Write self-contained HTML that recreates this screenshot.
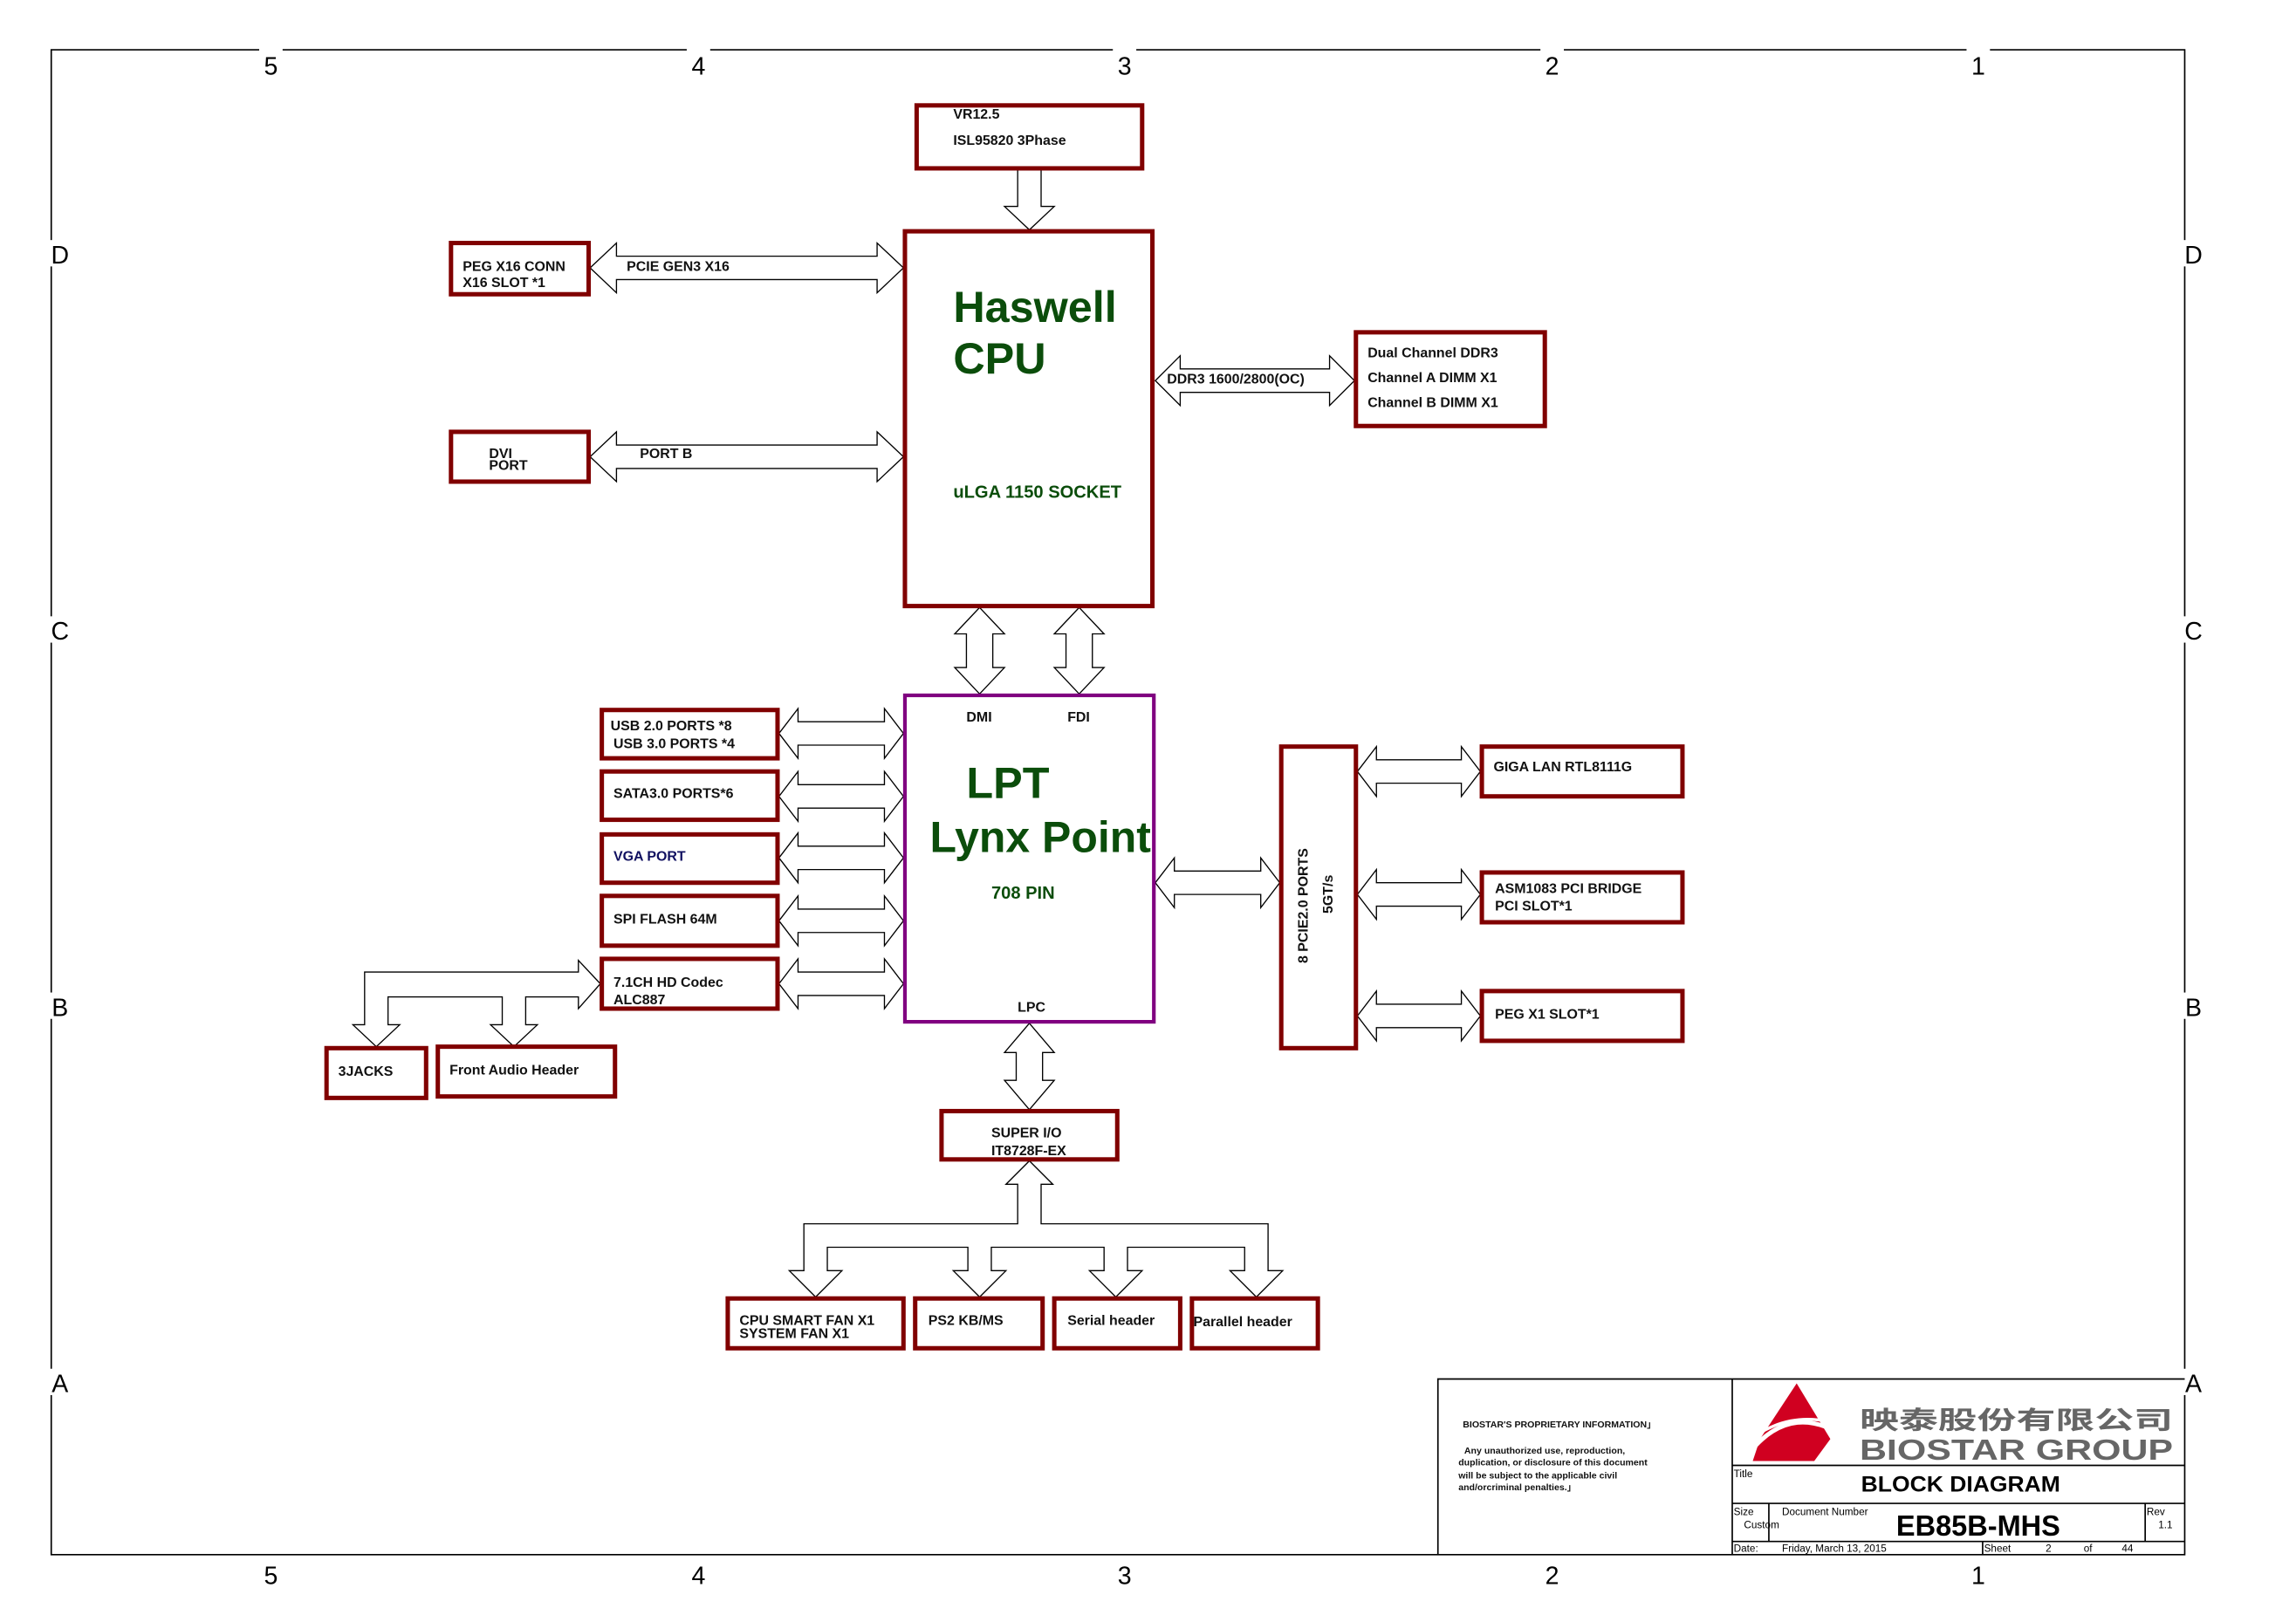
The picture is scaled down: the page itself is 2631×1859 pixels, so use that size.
<!DOCTYPE html>
<html><head><meta charset="utf-8"><style>
html,body{margin:0;padding:0;background:#fff;}
svg{display:block;}
text{font-family:"Liberation Sans","Noto Sans CJK SC",sans-serif;}
.b{fill:none;stroke:#800000;stroke-width:3;}
.a{fill:#fff;stroke:#000;stroke-width:0.8;}
.t{font-size:9.5px;font-weight:bold;fill:#111;}
.g{fill:#0b4d0b;font-weight:bold;}
.f{stroke:#000;stroke-width:1;fill:none;}
.z{font-size:17px;fill:#000;}
</style></head><body>
<svg width="2631" height="1859" viewBox="0 0 1568 1108" preserveAspectRatio="none" xmlns="http://www.w3.org/2000/svg">
<rect width="1568" height="1108" fill="#fff"/>
<!-- frame -->
<path class="f" d="M35 34H1492V1062H35Z"/>
<g class="z" text-anchor="middle">
<rect x="177" y="30" width="16" height="8" fill="#fff"/><text x="185" y="51">5</text>
<rect x="469" y="30" width="16" height="8" fill="#fff"/><text x="477" y="51">4</text>
<rect x="760" y="30" width="16" height="8" fill="#fff"/><text x="768" y="51">3</text>
<rect x="1052" y="30" width="16" height="8" fill="#fff"/><text x="1060" y="51">2</text>
<rect x="1343" y="30" width="16" height="8" fill="#fff"/><text x="1351" y="51">1</text>
<text x="185" y="1082">5</text><text x="477" y="1082">4</text><text x="768" y="1082">3</text><text x="1060" y="1082">2</text><text x="1351" y="1082">1</text>
<rect x="31" y="164" width="8" height="18" fill="#fff"/><text x="41" y="180">D</text>
<rect x="31" y="421" width="8" height="18" fill="#fff"/><text x="41" y="437">C</text>
<rect x="31" y="678" width="8" height="18" fill="#fff"/><text x="41" y="694">B</text>
<rect x="31" y="935" width="8" height="18" fill="#fff"/><text x="41" y="951">A</text>
<rect x="1488" y="164" width="8" height="18" fill="#fff"/><text x="1498" y="180">D</text>
<rect x="1488" y="421" width="8" height="18" fill="#fff"/><text x="1498" y="437">C</text>
<rect x="1488" y="678" width="8" height="18" fill="#fff"/><text x="1498" y="694">B</text>
<rect x="1488" y="935" width="8" height="18" fill="#fff"/><text x="1498" y="951">A</text>
</g>

<!-- arrows -->
<polygon class="a" points="695,116 711,116 711,141 720,141 703,157 686,141 695,141"/>
<polygon class="a" points="403,183 421,166 421,175 599,175 599,166 617,183 599,200 599,191 421,191 421,200"/>
<polygon class="a" points="403,312 421,295 421,304 599,304 599,295 617,312 599,329 599,320 421,320 421,329"/>
<polygon class="a" points="789,260 806,243 806,252 908,252 908,243 925,260 908,277 908,268 806,268 806,277"/>
<polygon class="a" points="669,415 686,433 678,433 678,456 686,456 669,474 652,456 660,456 660,433 652,433"/>
<polygon class="a" points="737,415 754,433 746,433 746,456 754,456 737,474 720,456 728,456 728,433 720,433"/>
<polygon class="a" points="703,699 720,719 712,719 712,738 720,738 703,758 686,738 694,738 694,719 686,719"/>
<polygon class="a" points="532,501 545,484 545,493 604,493 604,484 617,501 604,518 604,509 545,509 545,518"/>
<polygon class="a" points="532,544 545,527 545,536 604,536 604,527 617,544 604,561 604,552 545,552 545,561"/>
<polygon class="a" points="532,586 545,569 545,578 604,578 604,569 617,586 604,603 604,594 545,594 545,603"/>
<polygon class="a" points="532,629 545,612 545,621 604,621 604,612 617,629 604,646 604,637 545,637 545,646"/>
<polygon class="a" points="532,672 545,655 545,664 604,664 604,655 617,672 604,689 604,680 545,680 545,689"/>
<polygon class="a" points="789,603 802,586 802,595 861,595 861,586 874,603 861,620 861,611 802,611 802,620"/>
<polygon class="a" points="927,527 940,510 940,519 998,519 998,510 1011,527 998,544 998,535 940,535 940,544"/>
<polygon class="a" points="927,611 940,594 940,603 998,603 998,594 1011,611 998,628 998,619 940,619 940,628"/>
<polygon class="a" points="927,694 940,677 940,686 998,686 998,677 1011,694 998,711 998,702 940,702 940,711"/>
<polygon class="a" points="410,672 395,656 395,664 249,664 249,700 241,700 257,715 273,700 265,700 265,681 343,681 343,700 335,700 351,715 367,700 359,700 359,681 395,681 395,689"/>
<polygon class="a" points="703,793 719,809 711,809 711,836 866,836 866,868 876,868 858,886 840,868 850,868 850,852 770,852 770,868 780,868 762,886 744,868 754,868 754,852 677,852 677,868 687,868 669,886 651,868 661,868 661,852 565,852 565,868 575,868 557,886 539,868 549,868 549,836 695,836 695,809 687,809"/>

<!-- boxes -->
<rect class="b" x="626" y="72" width="154" height="43"/>
<text class="t" x="651" y="81">VR12.5</text>
<text class="t" x="651" y="99">ISL95820 3Phase</text>

<rect class="b" x="618" y="158" width="169" height="256"/>
<text class="g" x="651" y="220" font-size="30">Haswell</text>
<text class="g" x="651" y="255" font-size="30">CPU</text>
<text class="g" x="651" y="340" font-size="12">uLGA 1150 SOCKET</text>

<rect class="b" x="308" y="166" width="94" height="35"/>
<text class="t" x="316" y="185">PEG X16 CONN</text>
<text class="t" x="316" y="196">X16 SLOT *1</text>
<text class="t" x="428" y="185">PCIE GEN3 X16</text>

<rect class="b" x="308" y="295" width="94" height="34"/>
<text class="t" x="334" y="313">DVI</text>
<text class="t" x="334" y="321">PORT</text>
<text class="t" x="437" y="313">PORT B</text>

<text class="t" x="797" y="262">DDR3 1600/2800(OC)</text>
<rect class="b" x="926" y="227" width="129" height="64"/>
<text class="t" x="934" y="244">Dual Channel DDR3</text>
<text class="t" x="934" y="261">Channel A DIMM X1</text>
<text class="t" x="934" y="278">Channel B DIMM X1</text>

<rect x="618" y="475" width="170" height="223" fill="none" stroke="#800080" stroke-width="2.5"/>
<text class="t" x="660" y="493">DMI</text>
<text class="t" x="729" y="493">FDI</text>
<text class="g" x="660" y="545" font-size="30">LPT</text>
<text class="g" x="635" y="582" font-size="30" textLength="151" lengthAdjust="spacingAndGlyphs">Lynx Point</text>
<text class="g" x="677" y="614" font-size="12">708 PIN</text>
<text class="t" x="695" y="691">LPC</text>

<rect class="b" x="411" y="485" width="120" height="33"/>
<text class="t" x="417" y="499">USB 2.0 PORTS *8</text>
<text class="t" x="419" y="511">USB 3.0 PORTS *4</text>
<rect class="b" x="411" y="527" width="120" height="33"/>
<text class="t" x="419" y="545">SATA3.0 PORTS*6</text>
<rect class="b" x="411" y="570" width="120" height="33"/>
<text class="t" x="419" y="588" style="fill:#101060">VGA PORT</text>
<rect class="b" x="411" y="612" width="120" height="34"/>
<text class="t" x="419" y="631">SPI FLASH 64M</text>
<rect class="b" x="411" y="655" width="120" height="34"/>
<text class="t" x="419" y="674">7.1CH HD Codec</text>
<text class="t" x="419" y="686">ALC887</text>

<rect class="b" x="223" y="716" width="68" height="34"/>
<text class="t" x="231" y="735">3JACKS</text>
<rect class="b" x="299" y="715" width="121" height="34"/>
<text class="t" x="307" y="734">Front Audio Header</text>

<rect class="b" x="643" y="759" width="120" height="33"/>
<text class="t" x="677" y="777">SUPER I/O</text>
<text class="t" x="677" y="789">IT8728F-EX</text>

<rect class="b" x="497" y="887" width="120" height="34"/>
<text class="t" x="505" y="905">CPU SMART FAN X1</text>
<text class="t" x="505" y="914">SYSTEM FAN X1</text>
<rect class="b" x="625" y="887" width="87" height="34"/>
<text class="t" x="634" y="905">PS2 KB/MS</text>
<rect class="b" x="720" y="887" width="86" height="34"/>
<text class="t" x="729" y="905">Serial header</text>
<rect class="b" x="814" y="887" width="86" height="34"/>
<text class="t" x="815" y="906">Parallel header</text>

<rect class="b" x="875" y="510" width="51" height="206"/>
<text class="t" transform="translate(893,658) rotate(-90)">8 PCIE2.0 PORTS</text>
<text class="t" transform="translate(910,624) rotate(-90)">5GT/s</text>

<rect class="b" x="1012" y="510" width="137" height="34"/>
<text class="t" x="1020" y="527">GIGA LAN RTL8111G</text>
<rect class="b" x="1012" y="596" width="137" height="34"/>
<text class="t" x="1021" y="610">ASM1083 PCI BRIDGE</text>
<text class="t" x="1021" y="622">PCI SLOT*1</text>
<rect class="b" x="1012" y="677" width="137" height="34"/>
<text class="t" x="1021" y="696">PEG X1 SLOT*1</text>

<!-- title block -->
<path class="f" d="M982 1062V942H1492M1183 942V1062M1183 1001H1492M1183 1027H1492M1183 1053H1492M1208 1027V1053M1465 1027V1053M1354 1053V1062"/>
<g font-size="6.3" font-weight="bold" fill="#111">
<text x="999" y="975">BIOSTAR'S PROPRIETARY INFORMATION」</text>
<text x="1000" y="993">Any unauthorized use, reproduction,</text>
<text x="996" y="1001">duplication, or disclosure of this document</text>
<text x="996" y="1010">will be subject to the applicable civil</text>
<text x="996" y="1018">and/orcriminal penalties.」</text>
</g>
<polygon points="1227,945 1250,983 1239,998 1197,998 1202,983" fill="#d00020"/>
<path d="M1195 992 Q1225 955 1265 985" stroke="#fff" stroke-width="3" fill="none"/>
<path d="M1200 980 Q1228 962 1262 975" stroke="#fff" stroke-width="2" fill="none"/>
<text x="1270" y="976" font-size="17" font-weight="bold" fill="#666" textLength="214" lengthAdjust="spacingAndGlyphs">映泰股份有限公司</text>
<text x="1270" y="997" font-size="20" font-weight="bold" fill="#666" textLength="214" lengthAdjust="spacingAndGlyphs">BIOSTAR GROUP</text>
<g font-size="7" fill="#000">
<text x="1184" y="1009">Title</text>
<text x="1184" y="1035">Size</text>
<text x="1191" y="1044">Custom</text>
<text x="1217" y="1035">Document Number</text>
<text x="1466" y="1035">Rev</text>
<text x="1474" y="1044">1.1</text>
<text x="1184" y="1060">Date:</text>
<text x="1217" y="1060">Friday, March 13, 2015</text>
<text x="1355" y="1060">Sheet</text>
<text x="1397" y="1060">2</text>
<text x="1423" y="1060">of</text>
<text x="1449" y="1060">44</text>
</g>
<text x="1271" y="1019" font-size="15" font-weight="bold" textLength="136" lengthAdjust="spacingAndGlyphs">BLOCK DIAGRAM</text>
<text x="1295" y="1049" font-size="20" font-weight="bold" textLength="112" lengthAdjust="spacingAndGlyphs">EB85B-MHS</text>
</svg>
</body></html>
